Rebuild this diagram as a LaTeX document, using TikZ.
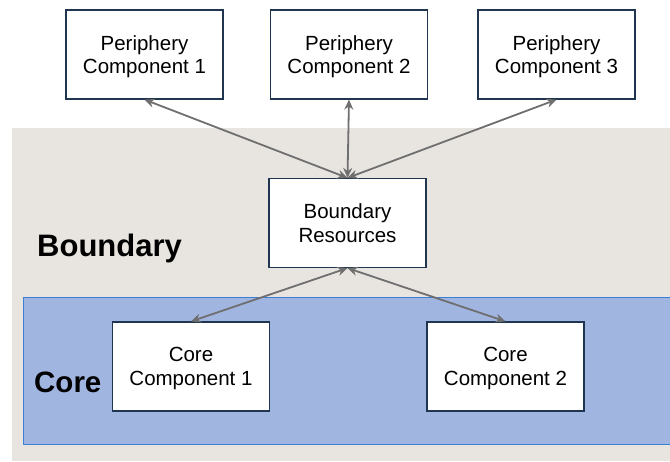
\documentclass[tikz,border=0pt]{standalone}
\usepackage{fontspec}
\setmainfont{Liberation Sans}
\usetikzlibrary{arrows.meta}
\definecolor{zonegray}{HTML}{E8E5E0}
\definecolor{corefill}{HTML}{A1B5E1}
\definecolor{coreedge}{HTML}{3C7FD6}
\definecolor{boxedge}{HTML}{1F3550}
\definecolor{linkgray}{HTML}{6F6F6F}
\tikzset{
  compbox/.style={draw=boxedge, line width=1.2pt, fill=white, minimum width=157pt,
    minimum height=89pt, align=center, font=\fontsize{20.5}{23.5}\selectfont,
    inner sep=0pt, text depth=0pt},
  link/.style={draw=linkgray, line width=1.8pt,
    {Stealth[length=10pt,width=9pt]}-{Stealth[length=10pt,width=9pt]}},
  zonelabel/.style={font=\fontsize{31}{36}\selectfont\bfseries, anchor=west, inner sep=0pt}
}
\begin{document}
\begin{tikzpicture}[x=1pt,y=1pt]
\useasboundingbox (0,0) rectangle (670,461);
% zones
\fill[zonegray] (12,0) rectangle (672,333);
\filldraw[fill=corefill, draw=coreedge, line width=0.9pt] (23,17) rectangle (672,164);
\node[zonelabel] (lbound) at (37,213) {Boundary};
\node[zonelabel, font=\fontsize{29.5}{34}\selectfont\bfseries] (lcore) at (34,79) {Core};
% components
\node[compbox] (p1) at (144.5,406.5) {Periphery\\Component 1};
\node[compbox] (p2) at (349,406.5) {Periphery\\Component 2};
\node[compbox] (p3) at (556.5,406.5) {Periphery\\Component 3};
\node[compbox] (br) at (347.5,238) {Boundary\\Resources};
\node[compbox] (c1) at (191,94.5) {Core\\Component 1};
\node[compbox] (c2) at (505.5,94.5) {Core\\Component 2};
% links
\draw[link] (p1.south) -- (br.north);
\draw[link] (p2.south) -- (br.north);
\draw[link] (p3.south) -- (br.north);
\draw[link] (br.south) -- (c1.north);
\draw[link] (br.south) -- (c2.north);
\end{tikzpicture}
\end{document}
